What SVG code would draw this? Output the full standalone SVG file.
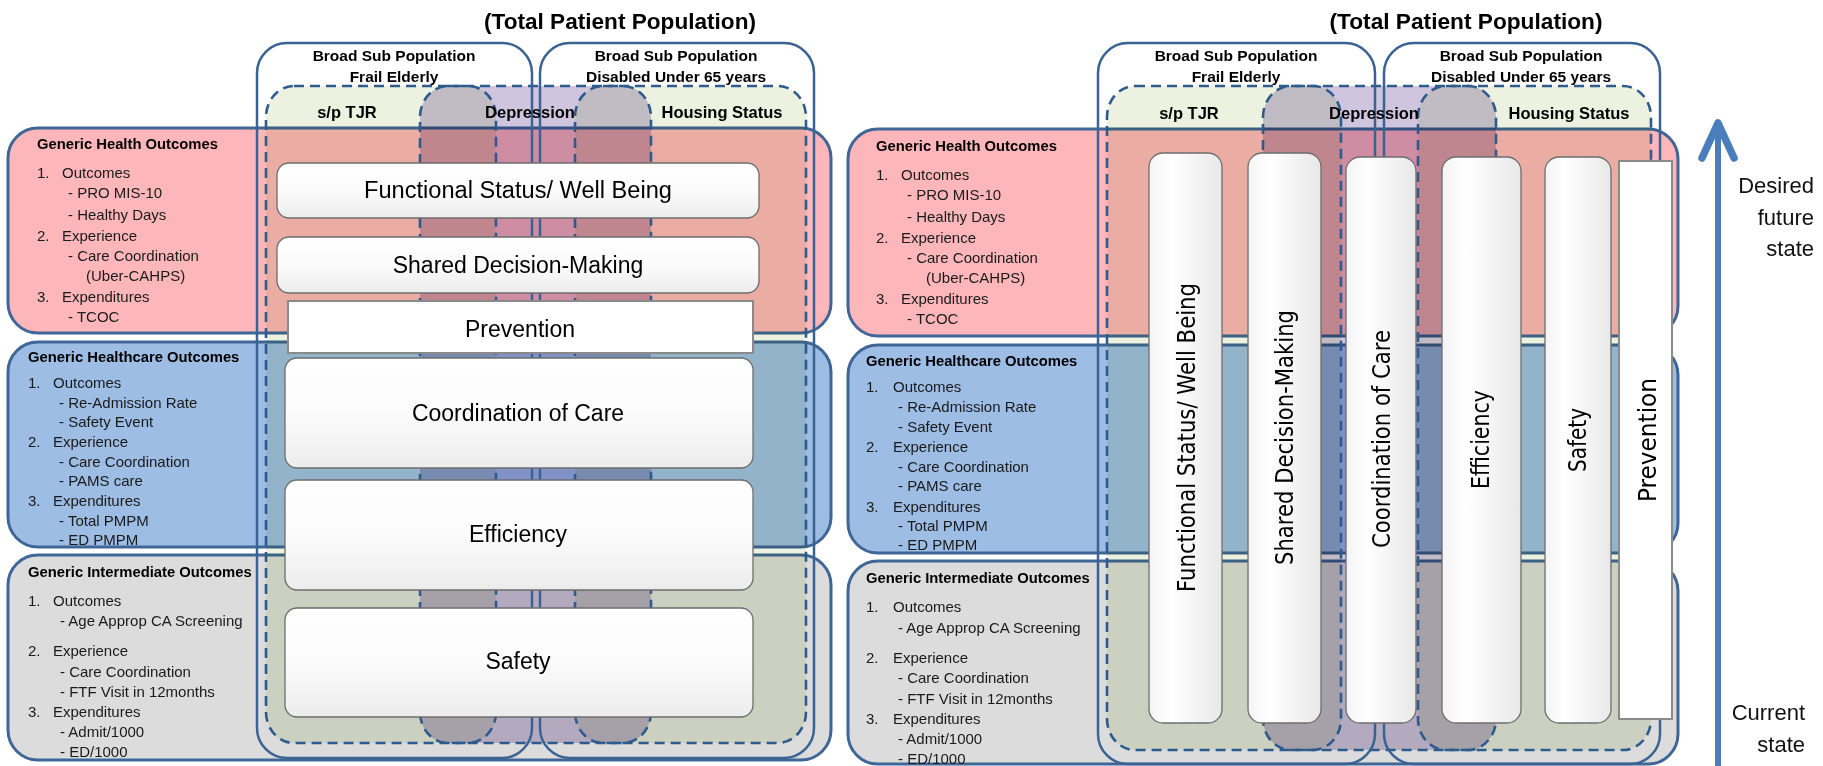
<svg xmlns="http://www.w3.org/2000/svg" width="1823" height="766" viewBox="0 0 1823 766">
<style>
.row{stroke:#3f6696;stroke-width:3}
.red{fill:#fdb7ba}.blue{fill:#9dbde5}.gray{fill:#dcdcdc}
.ov{mix-blend-mode:multiply;stroke:none}
.grn{fill:#edf2e0}.lav{fill:#d0c5df}
.dash{fill:none;stroke:#2e5b8d;stroke-width:2.6;stroke-dasharray:10 6}
.pop{fill:none;stroke:#3a6393;stroke-width:2.5}
.hd{font-family:"Liberation Sans",Arial,sans-serif;font-weight:bold;fill:#000;text-anchor:middle}
.lbl{font-family:"Liberation Sans",Arial,sans-serif;font-size:15px;fill:#1a1a1a}
.rh{font-weight:bold;font-size:14.8px;fill:#000}
.box{fill:url(#gv);stroke:#6e6e6e;stroke-width:1.3}
.pil{fill:url(#gh);stroke:#6e6e6e;stroke-width:1.3}
.prev{fill:#fff;stroke:#8a8a8a;stroke-width:2}
.bt{font-family:"Liberation Sans",Arial,sans-serif;font-size:23px;text-anchor:middle;fill:#000}
.vt{font-family:"DejaVu Sans",Verdana,sans-serif;font-size:24px;text-anchor:middle;fill:#000}
.side{font-family:"Liberation Sans",Arial,sans-serif;font-size:22px;text-anchor:end;fill:#111}
</style>
<defs>
<linearGradient id="gv" x1="0" y1="0" x2="0" y2="1"><stop offset="0" stop-color="#ffffff"/><stop offset="0.5" stop-color="#fbfbfb"/><stop offset="1" stop-color="#ececec"/></linearGradient>
<linearGradient id="gh" x1="0" y1="0" x2="1" y2="0"><stop offset="0" stop-color="#f4f4f4"/><stop offset="0.3" stop-color="#ffffff"/><stop offset="1" stop-color="#e8e8e8"/></linearGradient>
</defs>
<rect width="1823" height="766" fill="#fff"/>

<!-- LEFT PANEL -->
<g id="left-rows">
<rect id="L-health" class="row red" x="8" y="128" width="823" height="205" rx="30"/>
<rect id="L-healthcare" class="row blue" x="8" y="342" width="823" height="205" rx="30"/>
<rect id="L-intermediate" class="row gray" x="8" y="555" width="823" height="205" rx="30"/>
</g>
<g id="left-subpops">
<rect class="ov grn" x="266" y="86" width="230" height="657" rx="28" ry="31"/>
<rect class="ov lav" x="420" y="86" width="231" height="657" rx="28" ry="31"/>
<rect class="ov grn" x="575" y="86" width="231" height="657" rx="28" ry="31"/>
<rect class="dash" x="266" y="86" width="230" height="657" rx="28" ry="31"/>
<rect class="dash" x="420" y="86" width="231" height="657" rx="28" ry="31"/>
<rect class="dash" x="575" y="86" width="231" height="657" rx="28" ry="31"/>
</g>
<g id="left-pops">
<rect class="pop" x="257" y="43" width="275" height="715" rx="30"/>
<rect class="pop" x="540" y="43" width="274" height="715" rx="30"/>
</g>
<g id="left-headers">
<text class="hd" x="620" y="29" font-size="22" textLength="272" lengthAdjust="spacingAndGlyphs">(Total Patient Population)</text>
<text class="hd" x="394" y="61" font-size="15.5">Broad Sub Population</text>
<text class="hd" x="394" y="82" font-size="15.5">Frail Elderly</text>
<text class="hd" x="676" y="61" font-size="15.5">Broad Sub Population</text>
<text class="hd" x="676" y="82" font-size="15.5">Disabled Under 65 years</text>
<text class="hd" x="347" y="118" font-size="16.5">s/p TJR</text>
<text class="hd" x="530" y="118" font-size="16.5">Depression</text>
<text class="hd" x="722" y="118" font-size="16.5">Housing Status</text>
</g>
<g id="left-row-labels" class="lbl">
<text class="rh" x="37" y="149">Generic Health Outcomes</text>
<text y="178"><tspan x="37">1.</tspan><tspan x="62">Outcomes</tspan></text>
<text x="68" y="198">- PRO MIS-10</text>
<text x="68" y="220">- Healthy Days</text>
<text y="241"><tspan x="37">2.</tspan><tspan x="62">Experience</tspan></text>
<text x="68" y="261">- Care Coordination</text>
<text x="86" y="281">(Uber-CAHPS)</text>
<text y="302"><tspan x="37">3.</tspan><tspan x="62">Expenditures</tspan></text>
<text x="68" y="322">- TCOC</text>

<text class="rh" x="28" y="362">Generic Healthcare Outcomes</text>
<text y="388"><tspan x="28">1.</tspan><tspan x="53">Outcomes</tspan></text>
<text x="59" y="408">- Re-Admission Rate</text>
<text x="59" y="427">- Safety Event</text>
<text y="447"><tspan x="28">2.</tspan><tspan x="53">Experience</tspan></text>
<text x="59" y="467">- Care Coordination</text>
<text x="59" y="486">- PAMS care</text>
<text y="506"><tspan x="28">3.</tspan><tspan x="53">Expenditures</tspan></text>
<text x="59" y="526">- Total PMPM</text>
<text x="59" y="545">- ED PMPM</text>

<text class="rh" x="28" y="577">Generic Intermediate Outcomes</text>
<text y="606"><tspan x="28">1.</tspan><tspan x="53">Outcomes</tspan></text>
<text x="60" y="626">- Age Approp CA Screening</text>
<text y="656"><tspan x="28">2.</tspan><tspan x="53">Experience</tspan></text>
<text x="60" y="677">- Care Coordination</text>
<text x="60" y="697">- FTF Visit in 12months</text>
<text y="717"><tspan x="28">3.</tspan><tspan x="53">Expenditures</tspan></text>
<text x="60" y="737">- Admit/1000</text>
<text x="60" y="757">- ED/1000</text>
</g>
<g id="L-functional"><rect class="box" x="277" y="163" width="482" height="55" rx="12"/><text class="bt" x="518" y="198" textLength="308" lengthAdjust="spacingAndGlyphs">Functional Status/ Well Being</text></g>
<g id="L-shared"><rect class="box" x="277" y="237" width="482" height="56" rx="12"/><text class="bt" x="518" y="273">Shared Decision-Making</text></g>
<g id="L-prevention"><rect class="prev" x="288" y="301" width="465" height="52"/><text class="bt" x="520" y="337" font-size="25">Prevention</text></g>
<g id="L-coordination"><rect class="box" x="285" y="358" width="468" height="110" rx="12"/><text class="bt" x="518" y="421">Coordination of Care</text></g>
<g id="L-efficiency"><rect class="box" x="285" y="480" width="468" height="110" rx="12"/><text class="bt" x="518" y="542">Efficiency</text></g>
<g id="L-safety"><rect class="box" x="285" y="608" width="468" height="109" rx="12"/><text class="bt" x="518" y="669">Safety</text></g>

<!-- RIGHT PANEL -->
<g id="right-rows">
<rect id="R-health" class="row red" x="848" y="129" width="830" height="207" rx="30"/>
<rect id="R-healthcare" class="row blue" x="848" y="345" width="830" height="208" rx="30"/>
<rect id="R-intermediate" class="row gray" x="848" y="561" width="830" height="203" rx="30"/>
</g>
<g id="right-subpops">
<rect class="ov grn" x="1107" y="86" width="234" height="664" rx="28" ry="31"/>
<rect class="ov lav" x="1263" y="86" width="233" height="664" rx="28" ry="31"/>
<rect class="ov grn" x="1418" y="86" width="233" height="664" rx="28" ry="31"/>
<rect class="dash" x="1107" y="86" width="234" height="664" rx="28" ry="31"/>
<rect class="dash" x="1263" y="86" width="233" height="664" rx="28" ry="31"/>
<rect class="dash" x="1418" y="86" width="233" height="664" rx="28" ry="31"/>
</g>
<g id="right-pops">
<rect class="pop" x="1098" y="43" width="277" height="721" rx="30"/>
<rect class="pop" x="1384" y="43" width="276" height="721" rx="30"/>
</g>
<g id="right-headers">
<text class="hd" x="1466" y="29" font-size="22" textLength="273" lengthAdjust="spacingAndGlyphs">(Total Patient Population)</text>
<text class="hd" x="1236" y="61" font-size="15.5">Broad Sub Population</text>
<text class="hd" x="1236" y="82" font-size="15.5">Frail Elderly</text>
<text class="hd" x="1521" y="61" font-size="15.5">Broad Sub Population</text>
<text class="hd" x="1521" y="82" font-size="15.5">Disabled Under 65 years</text>
<text class="hd" x="1189" y="119" font-size="16.5">s/p TJR</text>
<text class="hd" x="1374" y="119" font-size="16.5">Depression</text>
<text class="hd" x="1569" y="119" font-size="16.5">Housing Status</text>
</g>
<g id="right-row-labels" class="lbl">
<text class="rh" x="876" y="151">Generic Health Outcomes</text>
<text y="180"><tspan x="876">1.</tspan><tspan x="901">Outcomes</tspan></text>
<text x="907" y="200">- PRO MIS-10</text>
<text x="907" y="222">- Healthy Days</text>
<text y="243"><tspan x="876">2.</tspan><tspan x="901">Experience</tspan></text>
<text x="907" y="263">- Care Coordination</text>
<text x="926" y="283">(Uber-CAHPS)</text>
<text y="304"><tspan x="876">3.</tspan><tspan x="901">Expenditures</tspan></text>
<text x="907" y="324">- TCOC</text>

<text class="rh" x="866" y="366">Generic Healthcare Outcomes</text>
<text y="392"><tspan x="866">1.</tspan><tspan x="893">Outcomes</tspan></text>
<text x="898" y="412">- Re-Admission Rate</text>
<text x="898" y="432">- Safety Event</text>
<text y="452"><tspan x="866">2.</tspan><tspan x="893">Experience</tspan></text>
<text x="898" y="472">- Care Coordination</text>
<text x="898" y="491">- PAMS care</text>
<text y="512"><tspan x="866">3.</tspan><tspan x="893">Expenditures</tspan></text>
<text x="898" y="531">- Total PMPM</text>
<text x="898" y="550">- ED PMPM</text>

<text class="rh" x="866" y="583">Generic Intermediate Outcomes</text>
<text y="612"><tspan x="866">1.</tspan><tspan x="893">Outcomes</tspan></text>
<text x="898" y="633">- Age Approp CA Screening</text>
<text y="663"><tspan x="866">2.</tspan><tspan x="893">Experience</tspan></text>
<text x="898" y="683">- Care Coordination</text>
<text x="898" y="704">- FTF Visit in 12months</text>
<text y="724"><tspan x="866">3.</tspan><tspan x="893">Expenditures</tspan></text>
<text x="898" y="744">- Admit/1000</text>
<text x="898" y="764">- ED/1000</text>
</g>
<g id="R-functional"><rect class="pil" x="1149" y="153" width="73" height="570" rx="14"/><text class="vt" transform="translate(1195,437.5) rotate(-90)" textLength="309" lengthAdjust="spacingAndGlyphs">Functional Status/ Well Being</text></g>
<g id="R-shared"><rect class="pil" x="1248" y="153" width="73" height="570" rx="14"/><text class="vt" transform="translate(1293,437.5) rotate(-90)" textLength="255" lengthAdjust="spacingAndGlyphs">Shared Decision-Making</text></g>
<g id="R-coordination"><rect class="pil" x="1346" y="157" width="70" height="566" rx="14"/><text class="vt" transform="translate(1390,439) rotate(-90)" textLength="218" lengthAdjust="spacingAndGlyphs">Coordination of Care</text></g>
<g id="R-efficiency"><rect class="pil" x="1442" y="157" width="79" height="566" rx="14"/><text class="vt" transform="translate(1489,439.5) rotate(-90)" textLength="99" lengthAdjust="spacingAndGlyphs">Efficiency</text></g>
<g id="R-safety"><rect class="pil" x="1545" y="157" width="66" height="566" rx="14"/><text class="vt" transform="translate(1586,440) rotate(-90)" textLength="64" lengthAdjust="spacingAndGlyphs">Safety</text></g>
<g id="R-prevention"><rect class="prev" x="1619" y="161" width="53" height="558"/><text class="vt" font-size="26" transform="translate(1656,440) rotate(-90)" textLength="124" lengthAdjust="spacingAndGlyphs">Prevention</text></g>

<g id="connectors">
<line x1="1718" y1="128" x2="1718" y2="766" stroke="#4a7ebb" stroke-width="6"/>
<polyline points="1702,158 1718,123 1734,158" fill="none" stroke="#4a7ebb" stroke-width="7.5" stroke-linecap="round" stroke-linejoin="round"/>
</g>
<g id="state-labels">
<text class="side" x="1814" y="193">Desired</text>
<text class="side" x="1814" y="225">future</text>
<text class="side" x="1814" y="256">state</text>
<text class="side" x="1805" y="720">Current</text>
<text class="side" x="1805" y="752">state</text>
</g>
</svg>
